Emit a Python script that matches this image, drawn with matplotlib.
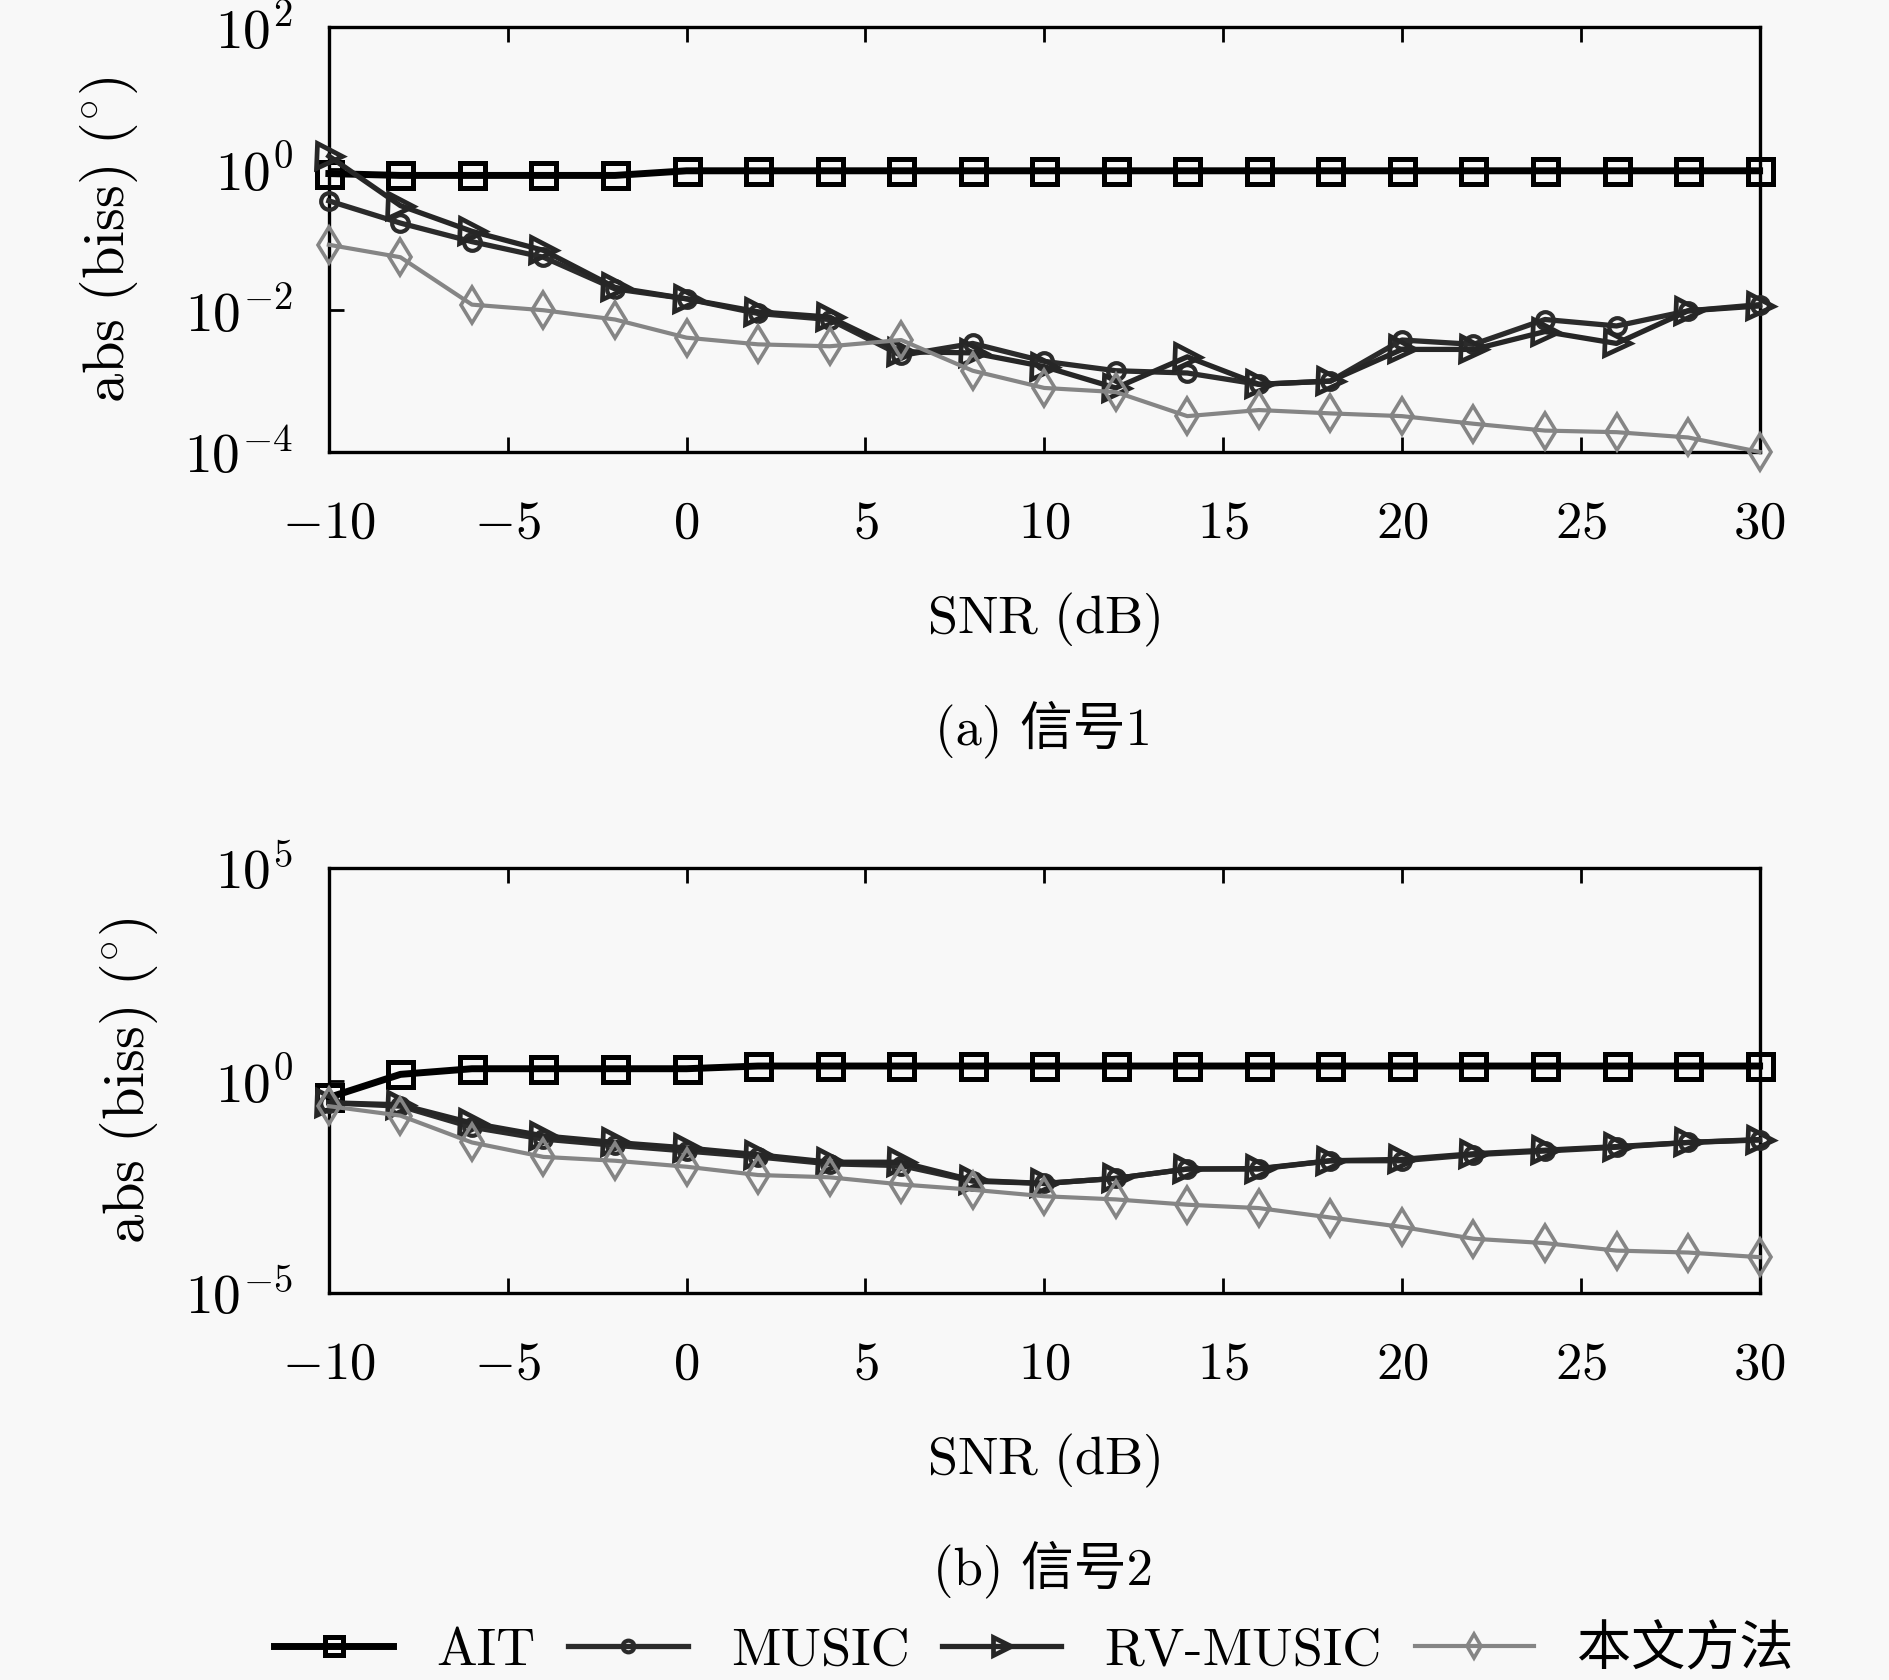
import matplotlib
matplotlib.use("Agg")
import matplotlib.pyplot as plt
import numpy as np

plt.rcParams['mathtext.fontset'] = 'cm'
plt.rcParams['font.family'] = ['cmr10', 'Noto Sans CJK SC', 'DejaVu Sans']
plt.rcParams['axes.unicode_minus'] = False
plt.rcParams['axes.formatter.use_mathtext'] = True

# SNR values (dB)
snr = np.arange(-10, 31, 2)

# panel (a): signal 1
ait_a = [0.85, 0.8, 0.8, 0.8, 0.8, 0.93, 0.93, 0.93, 0.93, 0.93, 0.93,
         0.93, 0.93, 0.93, 0.93, 0.93, 0.93, 0.93, 0.93, 0.93, 0.93]
music_a = [0.35, 0.17, 0.093, 0.056, 0.02, 0.0145, 0.009, 0.0074, 0.0023, 0.0034, 0.0019,
           0.0014, 0.0013, 0.0009, 0.001, 0.0038, 0.0033, 0.0074, 0.006, 0.0098, 0.012]
rv_a = [1.5, 0.3, 0.13, 0.07, 0.021, 0.0145, 0.0095, 0.008, 0.0026, 0.0025, 0.0016,
        0.0008, 0.0022, 0.0009, 0.001, 0.0028, 0.0028, 0.005, 0.0034, 0.0098, 0.0115]
ours_a = [0.084, 0.056, 0.012, 0.01, 0.0074, 0.0041, 0.0033, 0.0031, 0.0038, 0.0014, 0.0008,
          0.0007, 0.00032, 0.00039, 0.00035, 0.00032, 0.00025, 0.0002, 0.00019, 0.00016, 0.0001]

# panel (b): signal 2
ait_b = [0.4, 1.4, 1.9, 1.9, 1.9, 1.9, 2.2, 2.2, 2.2, 2.2, 2.2,
         2.2, 2.2, 2.2, 2.2, 2.2, 2.2, 2.2, 2.2, 2.2, 2.2]
music_b = [0.3, 0.25, 0.08, 0.042, 0.03, 0.022, 0.016, 0.011, 0.01, 0.0043, 0.0038,
           0.005, 0.0083, 0.0083, 0.013, 0.013, 0.018, 0.022, 0.027, 0.035, 0.04]
rv_b = [0.3, 0.27, 0.1, 0.05, 0.035, 0.026, 0.018, 0.012, 0.012, 0.0045, 0.0038,
        0.005, 0.0083, 0.0085, 0.013, 0.014, 0.019, 0.023, 0.028, 0.035, 0.041]
ours_b = [0.25, 0.15, 0.035, 0.016, 0.013, 0.0094, 0.006, 0.0053, 0.0036, 0.0027, 0.0019,
          0.0016, 0.0012, 0.001, 0.0006, 0.00036, 0.00019, 0.00015, 0.0001, 0.00009, 0.00007]

labels = ['AIT', 'MUSIC', 'RV-MUSIC', '本文方法']
xticks = [-10, -5, 0, 5, 10, 15, 20, 25, 30]

styles = [
    dict(color='black', lw=5.0, marker='s', ms=18, mfc='none', mew=3.6),
    dict(color='#2b2b2b', lw=3.8, marker='o', ms=12, mfc='none', mew=3.0),
    dict(color='#262626', lw=3.8, marker='>', ms=18, mfc='none', mew=3.4),
    dict(color='#858585', lw=3.0, marker='d', ms=18, mfc='none', mew=2.6),
]

bg = '#f8f8f8'
fig = plt.figure(figsize=(18.9, 16.8), dpi=100, facecolor=bg)
ax_a = fig.add_axes([0.174, 0.731, 0.757, 0.253])
ax_b = fig.add_axes([0.174, 0.2303, 0.757, 0.253])

panels = [
    (ax_a, [ait_a, music_a, rv_a, ours_a], (1e-4, 1e2), [-4, -2, 0, 2], -0.132, '(a) 信号1', 0.566),
    (ax_b, [ait_b, music_b, rv_b, ours_b], (1e-5, 1e5), [-5, 0, 5], -0.118, '(b) 信号2', 0.066),
]

lines = []
for ax, series, ylim, yexp, ylab_x, caption, cap_y in panels:
    ax.set_facecolor(bg)
    lines = []
    for vals, st, lab in zip(series, styles, labels):
        ln, = ax.plot(snr, vals, label=lab, clip_on=False, zorder=3, **st)
        lines.append(ln)
    ax.set_yscale('log')
    ax.set_xlim(-10, 30)
    ax.set_ylim(*ylim)
    ax.set_xticks(xticks)
    ax.set_xticklabels([r'$%d$' % t for t in xticks])
    ax.set_yticks([10.0 ** e for e in yexp])
    ax.set_yticklabels([r'$10^{%d}$' % e for e in yexp])
    ax.yaxis.set_minor_locator(matplotlib.ticker.NullLocator())
    ax.tick_params(axis='x', which='major', direction='in', top=True, bottom=True,
                   length=11, width=2, labelsize=38, pad=35)
    ax.tick_params(axis='y', which='major', direction='in', left=True, right=False,
                   length=11, width=2, labelsize=40, pad=26)
    for sp in ax.spines.values():
        sp.set_linewidth(2.4)
    ax.set_xlabel(r'$\mathrm{SNR\ (dB)}$', fontsize=39, labelpad=31)
    ax.set_ylabel(r'$\mathrm{abs\ (biss)\ (}^{\circ}\mathrm{)}$', fontsize=42)
    ax.yaxis.set_label_coords(ylab_x, 0.5)
    fig.text(0.552, cap_y, caption, fontsize=38, ha='center', va='center')

fig.legend(lines, labels, loc='center', bbox_to_anchor=(0.547, 0.018), ncol=4,
           frameon=False, fontsize=39, handlelength=2.2, columnspacing=0.6,
           handletextpad=0.8, markerscale=0.7)

fig.savefig('out.png', dpi=100, facecolor=bg)
